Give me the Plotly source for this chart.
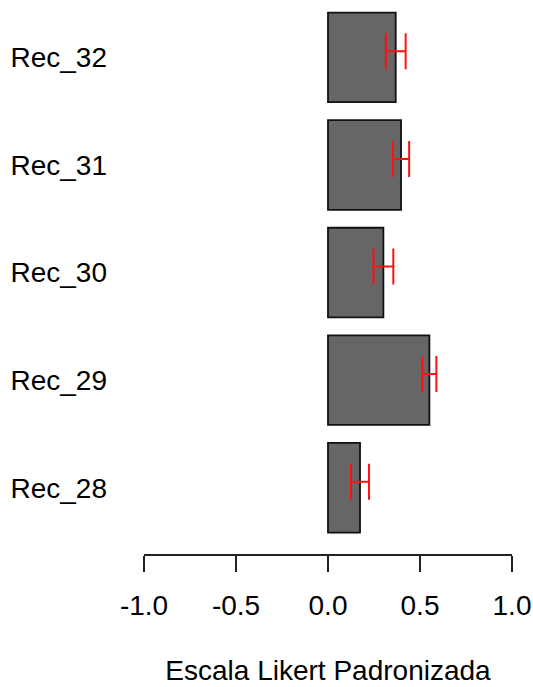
import plotly.graph_objects as go

categories = ["Rec_28", "Rec_29", "Rec_30", "Rec_31", "Rec_32"]
values = [0.174, 0.551, 0.301, 0.397, 0.368]
errors = [0.049, 0.038, 0.054, 0.044, 0.054]
x_ticks = [-1.0, -0.5, 0.0, 0.5, 1.0]
x_tick_labels = ["-1.0", "-0.5", "0.0", "0.5", "1.0"]

positions = list(range(len(categories)))
err_offset = 0.056
err_positions = [p + err_offset for p in positions]

FONT = "Liberation Sans, Arial, sans-serif"

fig = go.Figure()
fig.add_trace(go.Bar(
    x=values, y=positions, orientation="h", width=0.833,
    marker=dict(color="#666666", line=dict(color="#111111", width=1.8)),
    hoverinfo="skip", showlegend=False,
))
fig.add_trace(go.Scatter(
    x=values, y=err_positions, mode="markers",
    marker=dict(size=1, opacity=0),
    error_x=dict(type="data", array=errors, symmetric=True,
                 color="#FF1010", thickness=2, width=18),
    hoverinfo="skip", showlegend=False,
))

fig.update_layout(
    width=533, height=687,
    margin=dict(l=144, r=21, t=8, b=133, autoexpand=False),
    plot_bgcolor="white", paper_bgcolor="white",
    font=dict(family=FONT, size=28, color="#000000"),
    xaxis=dict(
        range=[-1, 1], tickvals=x_ticks, ticktext=x_tick_labels,
        showline=True, linecolor="#222222", linewidth=1.5,
        ticks="outside", ticklen=16, tickwidth=1.5, tickcolor="#222222",
        showgrid=False, zeroline=False, automargin=False,
        ticklabelstandoff=10,
        title=dict(text="Escala Likert Padronizada", standoff=40,
                   font=dict(size=28)),
    ),
    yaxis=dict(
        range=[-0.616, 4.459], tickvals=positions, ticktext=categories,
        showline=False, ticks="", showgrid=False, zeroline=False,
        automargin=False, ticklabelstandoff=36,
    ),
)

fig.write_html(
    "out.html",
    config={"displayModeBar": False},
    post_script="document.body.style.margin='0';document.body.style.overflow='hidden';",
)
